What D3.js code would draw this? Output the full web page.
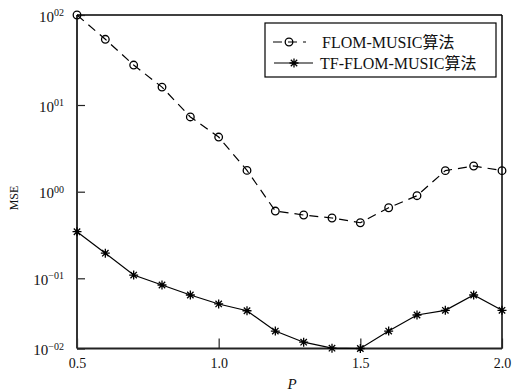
<!DOCTYPE html>
<html lang="en">
<head>
    <meta charset="UTF-8">
    <title>MSE vs P</title>
    <script src="https://d3js.org/d3.v7.min.js"></script>
    <style>
        body { margin: 0; background: #fff; }
        svg text { font-family: "Liberation Serif", "Noto Sans CJK SC", serif; fill: #111; }
    </style>
</head>
<body>
<svg width="512" height="392"></svg>
<script>
// values
const pValues = [0.5, 0.6, 0.7, 0.8, 0.9, 1.0, 1.1, 1.2, 1.3, 1.4, 1.5, 1.6, 1.7, 1.8, 1.9, 2.0];
const flomMse = [100, 53.7, 27.8, 15.8, 7.28, 4.27, 1.76, 0.598, 0.538, 0.497, 0.438, 0.653, 0.899, 1.75, 1.98, 1.75];
const tfFlomMse = [0.345, 0.195, 0.109, 0.0803, 0.0578, 0.0431, 0.0345, 0.0177, 0.0123, 0.0101, 0.0100, 0.0177, 0.030, 0.035, 0.0578, 0.035];
const seriesNames = ["FLOM-MUSIC算法", "TF-FLOM-MUSIC算法"];
const xTicks = [0.5, 1.0, 1.5, 2.0];
const xTickLabels = ["0.5", "1.0", "1.5", "2.0"];
const yTicks = [0.01, 0.1, 1, 10, 100];
const yTickSups = ["\u221202", "\u221201", "00", "01", "02"];

const plotL = 77, plotR = 502, plotT = 15, plotB = 348.5;

const svg = d3.select("svg");

const x = d3.scaleLinear().domain([0.5, 2.0]).range([plotL, plotR]);
// the printed axis has uneven decades, so map each decade separately
const y = d3.scaleLog()
    .domain([100, 10, 1, 0.1, 0.01])
    .range([plotT, 105, 191.7, 278.3, plotB]);

// frame: top and right thin, left and bottom heavier
svg.append("line").attr("x1", plotL).attr("x2", plotR).attr("y1", plotT).attr("y2", plotT)
    .attr("stroke", "#000").attr("stroke-width", 1.5);
svg.append("line").attr("x1", plotR).attr("x2", plotR).attr("y1", plotT).attr("y2", plotB)
    .attr("stroke", "#000").attr("stroke-width", 1.5);

// y axis
const yAxis = svg.append("g")
    .attr("transform", `translate(${plotL},0)`)
    .call(d3.axisLeft(y).tickValues(yTicks).tickSize(-8).tickSizeOuter(0).tickPadding(13));
yAxis.select(".domain").remove();
yAxis.selectAll(".tick line").attr("stroke", "#222").attr("stroke-width", 1.2);
yAxis.selectAll(".tick text")
    .attr("dy", "0.4em")
    .style("font-size", "15px")
    .each(function (d, i) {
        const t = d3.select(this).text(null);
        t.append("tspan").text("10");
        t.append("tspan").attr("dy", "-0.55em").style("font-size", "10px").text(yTickSups[i]);
    });

// x axis
const xAxis = svg.append("g")
    .attr("transform", `translate(0,${plotB})`)
    .call(d3.axisBottom(x).tickValues(xTicks).tickSize(-10).tickSizeOuter(0).tickPadding(13)
        .tickFormat((d, i) => xTickLabels[i]));
xAxis.select(".domain").remove();
xAxis.selectAll(".tick line").attr("stroke", "#222").attr("stroke-width", 1.2);
xAxis.selectAll(".tick text").style("font-size", "14px").attr("dy", "0.45em");

svg.append("line").attr("x1", plotL).attr("x2", plotL).attr("y1", plotT).attr("y2", plotB)
    .attr("stroke", "#333").attr("stroke-width", 2);
svg.append("line").attr("x1", plotL).attr("x2", plotR).attr("y1", plotB).attr("y2", plotB)
    .attr("stroke", "#222").attr("stroke-width", 2);

// axis titles
svg.append("text")
    .attr("transform", "translate(18,198) rotate(-90)")
    .attr("text-anchor", "middle")
    .style("font-size", "12px")
    .text("MSE");
svg.append("text")
    .attr("x", 292).attr("y", 389)
    .attr("text-anchor", "middle")
    .style("font-size", "15px")
    .style("font-style", "italic")
    .text("P");

const line = d3.line().x((d, i) => x(pValues[i])).y(d => y(d));

// FLOM-MUSIC: dashed with open circles
svg.append("path")
    .datum(flomMse)
    .attr("d", line)
    .attr("fill", "none")
    .attr("stroke", "#000")
    .attr("stroke-width", 1.2)
    .attr("stroke-dasharray", "9,6");
svg.append("g").selectAll("circle")
    .data(flomMse)
    .join("circle")
    .attr("cx", (d, i) => x(pValues[i]))
    .attr("cy", d => y(d))
    .attr("r", 3.8)
    .attr("fill", "none")
    .attr("stroke", "#000")
    .attr("stroke-width", 1.3);

// TF-FLOM-MUSIC: solid with stars
const star = "M0,-4.5V4.5M-4.5,0H4.5M-3.2,-3.2L3.2,3.2M-3.2,3.2L3.2,-3.2";
svg.append("path")
    .datum(tfFlomMse)
    .attr("d", line)
    .attr("fill", "none")
    .attr("stroke", "#000")
    .attr("stroke-width", 1.2);
svg.append("g").selectAll("path")
    .data(tfFlomMse)
    .join("path")
    .attr("transform", (d, i) => `translate(${x(pValues[i])},${y(d)})`)
    .attr("d", star)
    .attr("fill", "none")
    .attr("stroke", "#000")
    .attr("stroke-width", 1.3);

// legend
const legend = svg.append("g");
legend.append("rect")
    .attr("x", 265).attr("y", 23).attr("width", 231).attr("height", 54)
    .attr("fill", "#fff").attr("stroke", "#000").attr("stroke-width", 1.2);

legend.append("line").attr("x1", 273).attr("x2", 306).attr("y1", 42).attr("y2", 42)
    .attr("stroke", "#000").attr("stroke-width", 1.2).attr("stroke-dasharray", "9,6");
legend.append("circle").attr("cx", 289).attr("cy", 42).attr("r", 3.8)
    .attr("fill", "none").attr("stroke", "#000").attr("stroke-width", 1.3);
legend.append("line").attr("x1", 274).attr("x2", 313).attr("y1", 63).attr("y2", 63)
    .attr("stroke", "#000").attr("stroke-width", 1.2);
legend.append("path").attr("transform", "translate(294,63)").attr("d", star)
    .attr("fill", "none").attr("stroke", "#000").attr("stroke-width", 1.3);

legend.selectAll("text.name")
    .data(seriesNames)
    .join("text")
    .attr("class", "name")
    .attr("x", (d, i) => i === 0 ? 322 : 320)
    .attr("y", (d, i) => i === 0 ? 47.5 : 68.5)
    .style("font-size", "16px")
    .text(d => d);
</script>
</body>
</html>
